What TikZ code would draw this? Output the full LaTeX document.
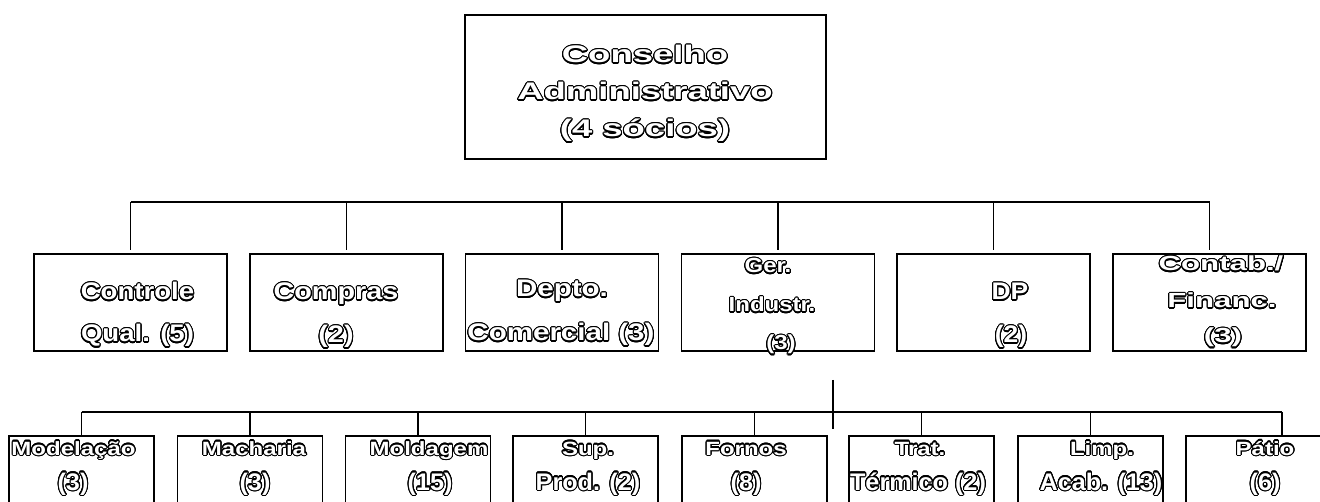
\documentclass[tikz,border=0pt]{standalone}
\usepackage{fontspec}
\setmainfont{Liberation Sans}
\usepackage{graphicx}
\usepackage{contour}
\contourlength{1.1pt}
\contournumber{24}
\newcommand{\olab}[3]{\textcolor{white}{\contour{black}{\scalebox{#1}[#2]{#3}}}}
\tikzset{
  box/.style={draw=black, line width=1.6pt, inner sep=0pt, outer sep=0pt},
  bigbox/.style={box, minimum width=361pt, minimum height=144pt},
  midbox/.style={box, minimum width=193pt, minimum height=97pt},
  lowbox/.style={box, minimum width=145pt, minimum height=90pt},
  lab/.style={inner sep=0pt, outer sep=0pt, anchor=base, font=\fontsize{24}{28}\selectfont\bfseries},
  wire/.style={draw=black, line width=1.6pt},
}
\begin{document}
\begin{tikzpicture}[x=1pt,y=-1pt]
\clip (0,0) rectangle (1320,502);
\fill[white] (0,0) rectangle (1320,502);

% top box
\node[bigbox] (top) at (645.5,87) {};

% first level boxes
\node[midbox] (b1) at (130.5,302.5) {};
\node[midbox] (b2) at (346.5,302.5) {};
\node[midbox] (b3) at (562,302.5) {};
\node[midbox] (b4) at (778,302.5) {};
\node[midbox] (b5) at (993.5,302.5) {};
\node[midbox] (b6) at (1209.5,302.5) {};

% second level boxes
\node[lowbox] (c1) at (81.5,481) {};
\node[lowbox] (c2) at (250,481) {};
\node[lowbox] (c3) at (418,481) {};
\node[lowbox] (c4) at (585.5,481) {};
\node[lowbox] (c5) at (754.5,481) {};
\node[lowbox] (c6) at (921.5,481) {};
\node[lowbox] (c7) at (1090.5,481) {};
\node[lowbox] (c8) at (1258.5,481) {};

% first level bus
\coordinate (r1) at (130.5,202);
\coordinate (r2) at (346.5,202);
\coordinate (r3) at (562,202);
\coordinate (r4) at (778,202);
\coordinate (r5) at (993.5,202);
\coordinate (r6) at (1209.5,202);
\draw[wire] (r1) -- (r6);
\foreach \i in {1,...,6}{\draw[wire, shorten >=4pt] (r\i) -- (r\i |- b\i.north);}

% second level bus
\coordinate (s1) at (81.5,412);
\coordinate (s2) at (250,412);
\coordinate (s3) at (418,412);
\coordinate (s4) at (585.5,412);
\coordinate (s5) at (754.5,412);
\coordinate (s6) at (921.5,412);
\coordinate (s7) at (1090.5,412);
\coordinate (s8) at (1282,412);
\draw[wire] (s1) -- (s8);
\foreach \i in {1,...,8}{\draw[wire] (s\i) -- (s\i |- c\i.north);}

% stub
\coordinate (g1) at (833,380);
\coordinate (g2) at (833,429);
\draw[wire] (g1) -- (g2);

% labels: top
\node[lab] (t1) at (645,63) {\olab{1.52}{1}{Conselho}};
\node[lab] (t2) at (645,100) {\olab{1.52}{1}{Administrativo}};
\node[lab] (t3) at (645,137) {\olab{1.52}{1}{(4 sócios)}};

% labels: first level
\node[lab] (l1a) at (137.5,300) {\olab{1.15}{1}{Controle}};
\node[lab] (l1b) at (137.5,342) {\olab{1.15}{1}{Qual. (5)}};
\node[lab] (l2a) at (336,300) {\olab{1.2}{1}{Compras}};
\node[lab] (l2b) at (336,343) {\olab{1.2}{1}{(2)}};
\node[lab] (l3a) at (562,297) {\olab{1.23}{1}{Depto.}};
\node[lab] (l3b) at (561,341) {\olab{1.23}{1}{Comercial (3)}};
\node[lab] (l4a) at (768,273) {\olab{1.0}{0.85}{Ger.}};
\node[lab] (l4b) at (772,312) {\olab{1.0}{0.85}{Industr.}};
\node[lab] (l4c) at (781,350) {\olab{1.0}{0.85}{(3)}};
\node[lab] (l5a) at (1010,300) {\olab{1.1}{1}{DP}};
\node[lab] (l5b) at (1011,343) {\olab{1.1}{1}{(2)}};
\node[lab] (l6a) at (1221,271) {\olab{1.3}{0.85}{Contab./}};
\node[lab] (l6b) at (1222,308) {\olab{1.3}{0.85}{Financ.}};
\node[lab] (l6c) at (1223,343) {\olab{1.3}{0.85}{(3)}};

% labels: second level
\node[lab] (m1a) at (73.5,455) {\olab{1.0}{0.8}{Modelação}};
\node[lab] (m1b) at (73,490) {\olab{1.05}{1}{(3)}};
\node[lab] (m2a) at (254,455) {\olab{1.0}{0.8}{Macharia}};
\node[lab] (m2b) at (255,490) {\olab{1.05}{1}{(3)}};
\node[lab] (m3a) at (429,455) {\olab{1.0}{0.8}{Moldagem}};
\node[lab] (m3b) at (430,490) {\olab{1.05}{1}{(15)}};
\node[lab] (m4a) at (588,455) {\olab{1.0}{0.8}{Sup.}};
\node[lab] (m4b) at (588,490) {\olab{1.05}{1}{Prod. (2)}};
\node[lab] (m5a) at (746,455) {\olab{1.0}{0.8}{Fornos}};
\node[lab] (m5b) at (746,490) {\olab{1.05}{1}{(8)}};
\node[lab] (m6a) at (920,455) {\olab{1.0}{0.8}{Trat.}};
\node[lab] (m6b) at (918,490) {\olab{1.05}{1}{Térmico (2)}};
\node[lab] (m7a) at (1102,455) {\olab{1.0}{0.8}{Limp.}};
\node[lab] (m7b) at (1101,490) {\olab{1.05}{1}{Acab. (13)}};
\node[lab] (m8a) at (1265,455) {\olab{1.0}{0.8}{Pátio}};
\node[lab] (m8b) at (1265,490) {\olab{1.05}{1}{(6)}};
\end{tikzpicture}
\end{document}
